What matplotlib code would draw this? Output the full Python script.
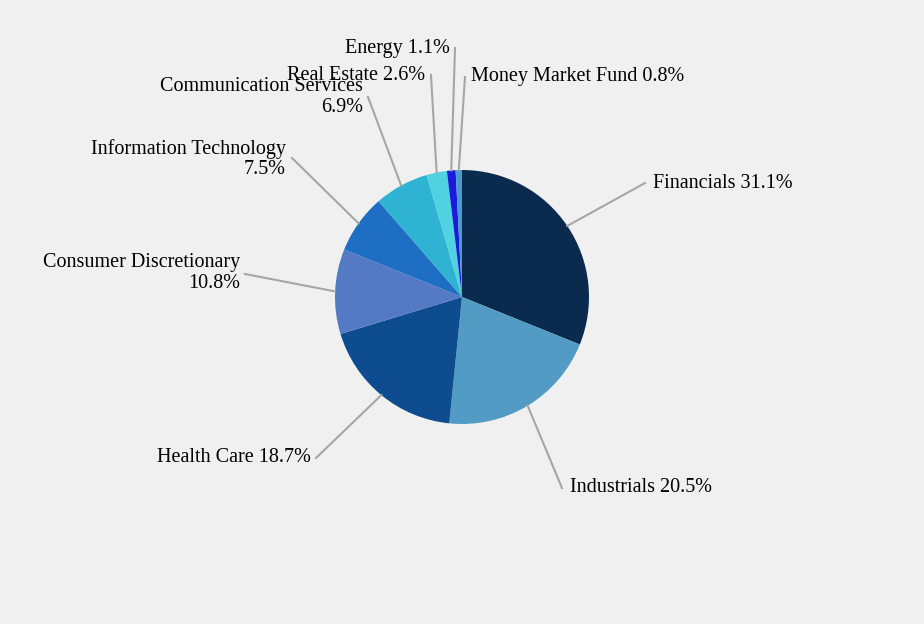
import numpy as np
import matplotlib.pyplot as plt

sectors = ['Financials', 'Industrials', 'Health Care', 'Consumer Discretionary',
           'Information Technology', 'Communication Services', 'Real Estate',
           'Energy', 'Money Market Fund']
weights = [31.1, 20.5, 18.7, 10.8, 7.5, 6.9, 2.6, 1.1, 0.8]
colors = ['#0a2a4e', '#529bc4', '#0d4c8f', '#5479c5', '#1e6fc4', '#2fb3d3',
          '#4fd3e0', '#1a1adb', '#4a9bd0']

# label text anchor (pixel coords, y from top), alignment, line elbow
labels = [
    ('Financials 31.1%', (653, 183), 'left', (645, 183)),
    ('Industrials 20.5%', (570, 488), 'left', (562, 488)),
    ('Health Care 18.7%', (311, 458), 'right', (316, 458)),
    ('Consumer Discretionary\n10.8%', (240, 273), 'right', (245, 274)),
    ('Information Technology\n7.5%', (286, 159), 'right', (292, 158)),
    ('Communication Services\n6.9%', (363, 97), 'right', (368, 97)),
    ('Real Estate 2.6%', (425, 75), 'right', (431, 75)),
    ('Energy 1.1%', (450, 48), 'right', (455, 48)),
    ('Money Market Fund 0.8%', (471, 77), 'left', (465, 77)),
]

H = 624
cx, cy, r = 462, H - 297, 127

fig = plt.figure(figsize=(9.24, 6.24), dpi=100, facecolor='#f0f0f0')
ax = fig.add_axes([0, 0, 1, 1])
ax.set_facecolor('#f0f0f0')

wedges, _ = ax.pie(weights, colors=colors, startangle=90, counterclock=False,
                   center=(cx, cy), radius=r, frame=True,
                   wedgeprops=dict(linewidth=0))
ax.set_xlim(0, 924)
ax.set_ylim(0, H)
ax.set_aspect('equal')
ax.axis('off')

for w, (txt, (tx, ty), ha, (ex, ey)) in zip(wedges, labels):
    ang = np.deg2rad((w.theta1 + w.theta2) / 2)
    px, py = cx + r * np.cos(ang), cy + r * np.sin(ang)
    ax.plot([px, ex], [py, H - ey], color='#a6a6a6', lw=1.5)
    ax.text(tx, H - ty, txt, ha=ha, va='center', multialignment='right',
            fontsize=14.5, family='Liberation Serif', color='black',
            linespacing=1.1)

fig.savefig('out.png', dpi=100, facecolor=fig.get_facecolor())
